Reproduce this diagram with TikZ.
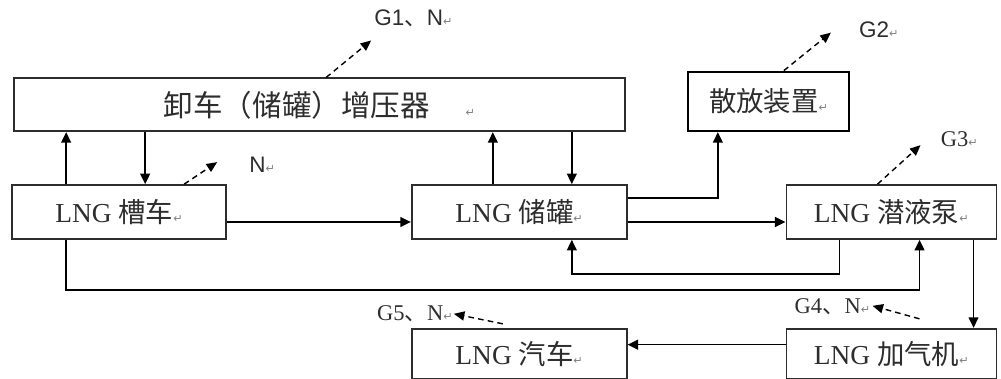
\documentclass[tikz,border=0pt]{standalone}
\usepackage{fontspec}
\setmainfont{Liberation Serif}
\newfontfamily\cjk{Noto Sans CJK SC}
\newfontfamily\symb{DejaVu Sans}
\newfontfamily\lsans{Liberation Sans}
\usepackage{xcolor}
\usetikzlibrary{arrows.meta,positioning}
\definecolor{lngdark}{RGB}{45,45,45}
\newcommand{\retmark}{{\symb\fontsize{8}{8}\selectfont\color{black!50}↵}}

\begin{document}
\begin{tikzpicture}[
  node distance=1.3cm and 3.95cm,
  box/.style={rectangle, draw=lngdark, line width=1.2pt, inner sep=0pt,
              minimum width=5.35cm, minimum height=1.35cm,
              font=\fontsize{19.5}{23}\selectfont, text=lngdark},
  lowbox/.style={box, minimum height=1.25cm},
  ventbox/.style={box, draw=black, line width=1.8pt, minimum width=4.025cm,
                  minimum height=1.475cm},
  arrow/.style={-{Triangle[length=7.5pt,width=7pt]}, line width=1.1pt},
  gas/.style={-{Triangle[length=7.5pt,width=6.5pt]}, line width=1pt,
              dash pattern=on 4pt off 3pt},
  gaslabel/.style={font=\fontsize{16}{18}\selectfont, inner sep=0pt, text=lngdark}
]
\useasboundingbox (0,0) rectangle (25.025,9.475);

% LNG tanker, tank and pump
\node[box] (carrier) at (2.975,4.175) {LNG {\cjk 槽车}\retmark};
\node[box, minimum width=5.375cm, right=4.6cm of carrier] (tank) {LNG {\cjk 储罐}\retmark};
\node[box, minimum width=5.25cm, right=of tank] (pump) {LNG {\cjk 潜液泵}\retmark};

% booster
\node[box, minimum width=15.275cm, minimum height=1.325cm,
      font=\fontsize{21}{25}\selectfont,
      above=1.3cm of carrier.north west, anchor=south west, xshift=0.05cm] (booster)
  {\cjk 卸车（储罐）增压器\hspace{0.9cm}\retmark};

% vent
\node[ventbox, right=1.525cm of booster.south east, anchor=south west] (vent)
  {\cjk 散放装置\retmark};

% dispenser and car
\node[lowbox, minimum width=5.25cm, below=2.2cm of pump] (dispenser)
  {LNG {\cjk 加气机}\retmark};
\node[lowbox, minimum width=5.375cm, left=of dispenser] (car)
  {LNG {\cjk 汽车}\retmark};

% tanker <-> booster
\draw[arrow] ([xshift=1.375cm]carrier.north west)
  -- ([xshift=1.375cm]carrier.north west |- booster.south);
\draw[arrow] ([xshift=3.35cm]carrier.north west |- booster.south)
  -- ([xshift=3.35cm]carrier.north west);

% tank <-> booster
\draw[arrow] ([xshift=2.05cm]tank.north west)
  -- ([xshift=2.05cm]tank.north west |- booster.south);
\draw[arrow] ([xshift=4.025cm]tank.north west |- booster.south)
  -- ([xshift=4.025cm]tank.north west);

% tank -> vent
\draw[arrow] ([yshift=-0.35cm]tank.north east) -| ([xshift=0.775cm]vent.south west);

% main line
\draw[arrow] ([yshift=-0.25cm]carrier.east) -- ([yshift=-0.25cm]tank.west);
\draw[arrow] ([yshift=-0.25cm]tank.east) -- ([yshift=-0.25cm]pump.west);

% pump return
\draw[arrow] ([xshift=1.35cm]pump.south west) -- ++(0,-0.85)
  -| ([xshift=4.025cm]tank.south west);

% tanker -> pump
\draw[arrow] ([xshift=1.375cm]carrier.south west) -- ++(0,-1.25)
  -| ([xshift=3.35cm]pump.south west);

% pump -> dispenser -> car
\draw[arrow] ([xshift=4.7cm]pump.south west) -- ([xshift=4.7cm]dispenser.north west);
\draw[arrow] ([yshift=0.225cm]dispenser.west) -- ([yshift=0.225cm]car.east);

% releases
\draw[gas] ([xshift=7.825cm]booster.north west) -- ++(1.125,0.925) coordinate (g1);
\node[gaslabel, anchor=base west] (g1text) at ([shift={(0.075,0.375)}]g1)
  {\lsans G1{\cjk 、}N\retmark};

\draw[gas] ([xshift=4.325cm]carrier.north west) -- ++(0.825,0.55) coordinate (n1);
\node[gaslabel, anchor=base west] (n1text) at ([shift={(0.8,-0.25)}]n1)
  {\lsans N\retmark};

\draw[gas] ([xshift=2.425cm]vent.north west) -- ++(1.175,0.95) coordinate (g2);
\node[gaslabel, anchor=base west] (g2text) at ([shift={(0.7,-0.125)}]g2)
  {\lsans G2\retmark};

\draw[gas] ([xshift=2.3cm]pump.north west) -- ++(1.075,0.975) coordinate (g3);
\node[gaslabel, anchor=base west] (g3text) at ([shift={(0.5,-0.025)}]g3)
  {G3\retmark};

\draw[gas] ([shift={(3.35cm,0.225cm)}]dispenser.north west) -- ++(-1.175,0.325)
  coordinate (g4);
\node[gaslabel, anchor=base east] (g4text) at ([shift={(-0.05,-0.2)}]g4)
  {G4{\cjk 、}N\retmark};

\draw[gas] ([shift={(2.3cm,0.1cm)}]car.north west) -- ++(-1.225,0.25) coordinate (g5);
\node[gaslabel, anchor=base east] (g5text) at ([shift={(-0.02,-0.175)}]g5)
  {G5{\cjk 、}N\retmark};

\end{tikzpicture}
\end{document}
